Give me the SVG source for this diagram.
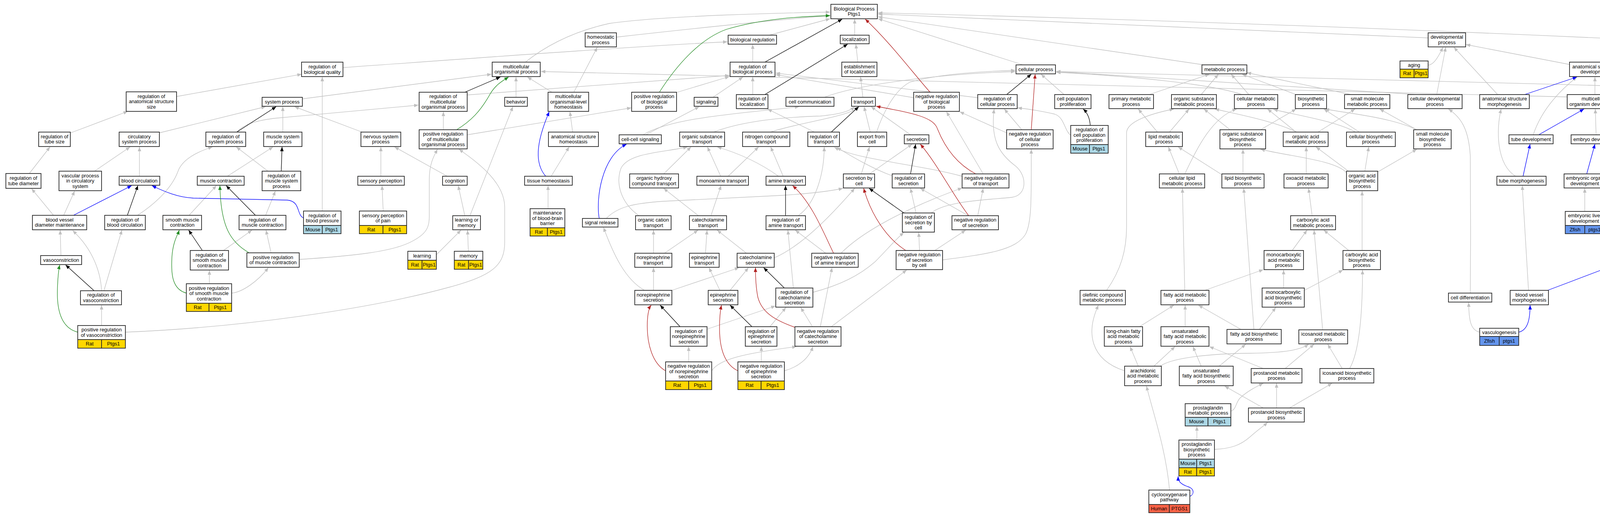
<svg xmlns="http://www.w3.org/2000/svg" width="6245" height="1323" viewBox="0 0 6245 1323">
<defs>
<style>
.n rect{fill:#fff;stroke:#2b2b2b;stroke-width:1.8}
text{font-family:"Liberation Sans",Arial,Helvetica,sans-serif;font-size:12.8px;text-anchor:middle;fill:#000}
.n rect.rat{fill:#FFD700}
.n rect.mou{fill:#ADD8E6}
.n rect.zf{fill:#6495ED}
.n rect.hu{fill:#FF6347}
#edges path{fill:none;stroke-width:1.3}
.g{stroke:#c0c0c0;marker-end:url(#mg)}
.k{stroke:#000;marker-end:url(#mk)}
.b{stroke:#0000ff;marker-end:url(#mb)}
.gr{stroke:#228b22;marker-end:url(#mgr)}
.r{stroke:#b22222;marker-end:url(#mr)}
</style>
<marker id="mg" viewBox="0 0 11 9" refX="11" refY="4.5" markerWidth="11" markerHeight="9" markerUnits="userSpaceOnUse" orient="auto"><path d="M0,0L11,4.5L0,9z" fill="#c0c0c0"/></marker>
<marker id="mk" viewBox="0 0 11 9" refX="11" refY="4.5" markerWidth="11" markerHeight="9" markerUnits="userSpaceOnUse" orient="auto"><path d="M0,0L11,4.5L0,9z" fill="#000"/></marker>
<marker id="mb" viewBox="0 0 11 9" refX="11" refY="4.5" markerWidth="11" markerHeight="9" markerUnits="userSpaceOnUse" orient="auto"><path d="M0,0L11,4.5L0,9z" fill="#0000ff"/></marker>
<marker id="mgr" viewBox="0 0 11 9" refX="11" refY="4.5" markerWidth="11" markerHeight="9" markerUnits="userSpaceOnUse" orient="auto"><path d="M0,0L11,4.5L0,9z" fill="#228b22"/></marker>
<marker id="mr" viewBox="0 0 11 9" refX="11" refY="4.5" markerWidth="11" markerHeight="9" markerUnits="userSpaceOnUse" orient="auto"><path d="M0,0L11,4.5L0,9z" fill="#b22222"/></marker>
</defs>
<rect x="0" y="0" width="6245" height="1323" fill="#fff"/>
<g id="edges">
<path class="g" d="M452,247 L772,190"/>
<path class="g" d="M878,173 C1200,150 1600,120 1862,107"/>
<path class="g" d="M774,253 L1258,190"/>
<path class="g" d="M606,338 C625,318 650,310 700,303 L1071,269"/>
<path class="g" d="M181,340 L327,285"/>
<path class="g" d="M408,340 L680,273"/>
<path class="g" d="M724,338 L724,273"/>
<path class="g" d="M927,338 L754,273"/>
<path class="g" d="M75,444 L128,376"/>
<path class="g" d="M242,438 L333,376"/>
<path class="g" d="M357,451 L357,376"/>
<path class="g" d="M582,451 L699,376"/>
<path class="g" d="M686,438 L605,376"/>
<path class="g" d="M975,451 L975,376"/>
<path class="g" d="M1145,451 L1010,376"/>
<path class="g" d="M137,551 L81,483"/>
<path class="g" d="M163,551 L191,489"/>
<path class="g" d="M352,551 C400,520 440,480 455,440 C465,410 500,390 544,376"/>
<path class="g" d="M484,551 L554,475"/>
<path class="g" d="M680,551 L705,489"/>
<path class="g" d="M825,540 L825,197"/>
<path class="g" d="M981,540 L978,475"/>
<path class="g" d="M694,647 L681,589"/>
<path class="g" d="M572,641 L645,589"/>
<path class="g" d="M156,654 L154,589"/>
<path class="g" d="M260,744 C258,700 240,640 186,590"/>
<path class="g" d="M266,744 L312,589"/>
<path class="g" d="M260,833 L260,781"/>
<path class="g" d="M536,726 L536,692"/>
<path class="g" d="M593,750 C620,748 660,720 687,685"/>
<path class="g" d="M321,850 C620,838 950,790 1150,735 C1260,705 1292,680 1292,620 L1292,530 C1292,470 1230,420 1175,382"/>
<path class="g" d="M766,664 C900,655 1000,645 1050,620 C1095,598 1099,580 1099,550 L1099,460 C1099,420 1110,400 1120,382"/>
<path class="g" d="M1345,159 C1400,115 1470,80 1560,60 C1700,40 2000,33 2125,31"/>
<path class="g" d="M1578,95 C1800,70 2000,50 2125,40"/>
<path class="g" d="M1969,90 L2125,48"/>
<path class="g" d="M1135,332 L1135,286"/>
<path class="g" d="M1196,345 L1616,276"/>
<path class="g" d="M1321,249 L1321,197"/>
<path class="g" d="M1413,236 L1350,197"/>
<path class="g" d="M1469,236 L1529,121"/>
<path class="g" d="M1734,236 L1867,196"/>
<path class="g" d="M1825,249 L1902,197"/>
<path class="g" d="M1927,242 L1927,197"/>
<path class="g" d="M1927,159 L1927,114"/>
<path class="g" d="M1196,243 L1867,193"/>
<path class="g" d="M2110,249 C2200,215 2400,190 2599,183"/>
<path class="g" d="M1653,345 L1790,273"/>
<path class="g" d="M1646,345 C1720,300 1900,290 2046,273"/>
<path class="g" d="M1466,338 L1459,286"/>
<path class="g" d="M1411,451 L1457,376"/>
<path class="g" d="M1403,534 L1403,475"/>
<path class="g" d="M1190,552 L1173,475"/>
<path class="g" d="M1203,552 L1313,273"/>
<path class="g" d="M1117,652 L1180,589"/>
<path class="g" d="M1199,643 L1197,589"/>
<path class="g" d="M1650,743 C1600,715 1570,650 1545,582"/>
<path class="g" d="M1552,559 C1580,530 1620,520 1700,515 L2000,500 C2080,495 2130,488 2158,482"/>
<path class="g" d="M1699,445 L1769,376"/>
<path class="g" d="M1636,552 C1590,520 1575,470 1590,430 C1610,390 1700,390 1760,376"/>
<path class="g" d="M1845,451 L1811,376"/>
<path class="g" d="M1864,451 L1942,376"/>
<path class="g" d="M1993,451 C1950,420 1900,395 1836,376"/>
<path class="g" d="M2005,451 L1973,376"/>
<path class="g" d="M1820,552 L1846,475"/>
<path class="g" d="M1788,552 L1699,482"/>
<path class="g" d="M1827,338 C1900,310 2000,300 2100,297 C2150,292 2175,285 2188,273"/>
<path class="g" d="M1972,338 C2060,310 2170,300 2200,273"/>
<path class="g" d="M2085,338 L1965,279"/>
<path class="g" d="M2043,552 C2090,520 2110,440 2110,376"/>
<path class="g" d="M2114,648 L2036,589"/>
<path class="g" d="M2153,648 C2200,600 2300,540 2463,481"/>
<path class="g" d="M1701,648 L1787,589"/>
<path class="g" d="M1673,648 L1673,589"/>
<path class="g" d="M1806,648 L1810,589"/>
<path class="g" d="M1911,648 L1836,589"/>
<path class="g" d="M1982,660 C2050,630 2120,560 2188,482"/>
<path class="g" d="M1673,743 L1673,685"/>
<path class="g" d="M1720,743 L1892,685"/>
<path class="g" d="M1843,743 L1815,685"/>
<path class="g" d="M1869,743 L1916,685"/>
<path class="g" d="M2031,737 L2017,589"/>
<path class="g" d="M2081,748 C2150,730 2200,705 2240,670 C2270,640 2295,610 2314,595"/>
<path class="g" d="M1811,842 L1985,783"/>
<path class="g" d="M1971,836 L2012,787"/>
<path class="g" d="M2080,836 L2050,787"/>
<path class="g" d="M2100,836 L2130,685"/>
<path class="g" d="M2128,836 L2321,691"/>
<path class="g" d="M1763,926 L1763,887"/>
<path class="g" d="M1822,949 C1840,920 1900,905 2039,887"/>
<path class="g" d="M1949,926 L1949,887"/>
<path class="g" d="M2008,949 C2040,940 2070,920 2081,887"/>
<path class="g" d="M2188,90 L2188,49"/>
<path class="g" d="M2196,159 L2191,113"/>
<path class="g" d="M2209,249 L2203,197"/>
<path class="g" d="M2339,250 L1986,191"/>
<path class="g" d="M2503,250 L1986,187"/>
<path class="g" d="M2619,166 L2248,48"/>
<path class="g" d="M3082,166 L2248,43"/>
<path class="g" d="M2724,242 L2665,190"/>
<path class="g" d="M2244,338 C2260,290 2290,230 2330,210 C2400,190 2500,183 2599,180"/>
<path class="g" d="M3627,242 L2704,183"/>
<path class="g" d="M3180,242 C3100,215 2900,195 2704,185"/>
<path class="g" d="M2942,242 L3096,190"/>
<path class="g" d="M3075,242 L3119,190"/>
<path class="g" d="M3197,242 L3152,190"/>
<path class="g" d="M3318,242 L3180,190"/>
<path class="g" d="M3459,242 L3192,186"/>
<path class="g" d="M2517,445 L2423,286"/>
<path class="g" d="M2463,451 C2350,420 2200,410 2136,377"/>
<path class="g" d="M2284,450 C2230,430 2180,400 2142,377"/>
<path class="g" d="M2228,338 L2212,273"/>
<path class="g" d="M2331,345 L2230,273"/>
<path class="g" d="M2226,445 L2335,369"/>
<path class="g" d="M2205,445 L2226,376"/>
<path class="g" d="M2345,545 L2331,482"/>
<path class="g" d="M2479,552 L2356,482"/>
<path class="g" d="M2503,552 L2517,482"/>
<path class="g" d="M2354,641 L2352,595"/>
<path class="g" d="M2393,641 L2472,589"/>
<path class="g" d="M2413,665 C2530,650 2600,640 2625,600 C2642,570 2640,500 2640,382"/>
<path class="g" d="M2384,545 C2420,515 2520,512 2590,505 C2630,500 2630,450 2600,425 C2560,395 2535,360 2545,279"/>
<path class="g" d="M2616,332 L2571,279"/>
<path class="g" d="M2577,340 L2457,286"/>
<path class="g" d="M2741,346 C2725,335 2725,300 2700,292 C2660,283 2640,280 2605,276"/>
<path class="g" d="M2963,338 L2914,279"/>
<path class="g" d="M2994,338 L3044,279"/>
<path class="g" d="M3019,445 L2991,376"/>
<path class="g" d="M3033,445 C3060,390 3100,300 3166,279"/>
<path class="g" d="M3128,447 L3016,376"/>
<path class="g" d="M3182,445 L3182,382"/>
<path class="g" d="M3149,332 L3082,279"/>
<path class="g" d="M3227,332 L3318,279"/>
<path class="g" d="M2833,743 C2870,690 2884,640 2884,580 L2884,340 C2884,310 2950,290 3005,279"/>
<path class="g" d="M3318,338 L3245,279"/>
<path class="g" d="M3374,338 L3469,279"/>
<path class="g" d="M3320,338 C3260,310 3180,295 3110,279"/>
<path class="g" d="M3480,338 L3389,279"/>
<path class="g" d="M3470,338 C3420,310 3320,295 3260,280"/>
<path class="g" d="M3627,332 L3532,279"/>
<path class="g" d="M3627,332 C3560,300 3450,290 3392,279"/>
<path class="g" d="M3452,438 L3369,376"/>
<path class="g" d="M3494,438 L3504,376"/>
<path class="g" d="M3527,440 L3627,382"/>
<path class="g" d="M3447,442 C3420,410 3300,400 3227,382"/>
<path class="g" d="M3344,445 L3344,376"/>
<path class="g" d="M3359,552 L3350,482"/>
<path class="g" d="M3308,641 L3346,589"/>
<path class="g" d="M3453,641 L3389,589"/>
<path class="g" d="M3487,641 L3487,489"/>
<path class="g" d="M3286,737 L3286,691"/>
<path class="g" d="M3339,743 L3438,691"/>
<path class="g" d="M3084,743 L3234,690"/>
<path class="g" d="M3033,743 L3027,482"/>
<path class="g" d="M3210,843 L3184,482"/>
<path class="g" d="M3224,843 L3266,787"/>
<path class="g" d="M3177,843 L3068,781"/>
<path class="g" d="M2917,836 L3005,781"/>
<path class="g" d="M3034,836 L3034,781"/>
<path class="g" d="M2879,949 C2790,920 2780,850 2812,781"/>
<path class="g" d="M2914,937 L2893,887"/>
<path class="g" d="M2954,937 L3008,887"/>
<path class="g" d="M2970,937 C3000,915 3100,905 3200,904 C3290,903 3330,895 3350,881"/>
<path class="g" d="M3234,943 L3096,887"/>
<path class="g" d="M3075,937 L3054,887"/>
<path class="g" d="M3121,937 L3189,881"/>
<path class="g" d="M3290,943 L3364,881"/>
<path class="g" d="M3151,1052 C3165,1048 3163,1030 3175,1018 C3195,1000 3215,990 3234,981"/>
<path class="g" d="M3234,1044 L3135,988"/>
<path class="g" d="M3268,1044 L3268,981"/>
<path class="g" d="M3301,1044 L3410,981"/>
<path class="g" d="M3436,943 L3399,881"/>
<path class="g" d="M3455,943 C3480,900 3488,800 3488,691"/>
<path class="g" d="M3386,844 L3364,589"/>
<path class="g" d="M3064,1126 L3064,1091"/>
<path class="g" d="M3109,1150 C3150,1148 3175,1140 3200,1118 C3220,1100 3235,1090 3245,1081"/>
<path class="g" d="M2994,1254 C2985,1150 2950,1050 2935,988"/>
<path class="g" d="M3656,97 L2248,36"/>
<path class="g" d="M5593,173 C4800,130 3600,65 2248,33"/>
<path class="g" d="M3656,167 C3670,165 3680,150 3694,121"/>
<path class="g" d="M3678,242 L3701,121"/>
<path class="g" d="M3834,242 L3722,121"/>
<path class="g" d="M4018,165 L3753,114"/>
<path class="g" d="M4083,242 L4083,197"/>
<path class="g" d="M4012,248 L1385,183"/>
<path class="g" d="M3925,345 C3940,300 3970,250 4037,197"/>
<path class="g" d="M4086,345 L4084,279"/>
<path class="g" d="M4372,345 C4320,300 4250,260 4150,197"/>
<path class="g" d="M4676,342 L4150,195"/>
<path class="g" d="M4160,648 C4170,500 4190,330 4180,260 C4175,230 4165,210 4150,198"/>
<path class="g" d="M3880,451 C3830,420 3830,330 3843,279"/>
<path class="g" d="M4110,447 C4150,430 4200,420 4300,418 C4450,414 4560,395 4675,369"/>
<path class="g" d="M4057,541 L4057,482"/>
<path class="g" d="M4291,445 L4372,369"/>
<path class="g" d="M4309,552 C4360,530 4386,500 4386,450 L4386,369"/>
<path class="g" d="M3913,743 L3897,475"/>
<path class="g" d="M3788,850 C3765,845 3760,820 3760,774"/>
<path class="g" d="M3764,750 C3765,650 3765,450 3764,400 C3760,330 3740,300 3708,279"/>
<path class="g" d="M4460,445 L4400,369"/>
<path class="g" d="M4586,445 C4520,410 4460,390 4418,369"/>
<path class="g" d="M4768,445 C4700,420 4550,390 4442,369"/>
<path class="g" d="M4961,451 C4900,420 4820,400 4761,374"/>
<path class="g" d="M5133,451 C5050,410 4900,380 4761,364"/>
<path class="g" d="M4659,558 C4700,555 4725,530 4725,480 L4722,376"/>
<path class="g" d="M4565,643 L4565,593"/>
<path class="g" d="M4934,541 C4935,520 4950,500 4970,475"/>
<path class="g" d="M5580,242 L5619,197"/>
<path class="g" d="M5508,258 C4800,240 3500,200 2704,183"/>
<path class="g" d="M5687,242 L5649,197"/>
<path class="g" d="M5924,245 L5673,192"/>
<path class="g" d="M5477,337 L5668,279"/>
<path class="g" d="M5614,332 L5576,279"/>
<path class="g" d="M5651,332 L5689,279"/>
<path class="g" d="M5773,338 L5720,279"/>
<path class="g" d="M5947,338 L5743,276"/>
<path class="g" d="M5376,445 L5406,382"/>
<path class="g" d="M5387,445 C5420,415 5480,405 5560,405 C5680,405 5730,395 5750,376"/>
<path class="g" d="M5475,445 L5436,382"/>
<path class="g" d="M5511,445 C5550,415 5620,410 5680,405 C5720,400 5750,390 5764,376"/>
<path class="g" d="M5637,445 L5634,382"/>
<path class="g" d="M5668,445 L5752,376"/>
<path class="g" d="M5790,445 L5790,376"/>
<path class="g" d="M5889,438 L5815,376"/>
<path class="g" d="M6059,428 C6060,410 6050,395 6033,376"/>
<path class="g" d="M6011,451 C5995,440 5995,425 5980,418 C5940,405 5880,390 5846,376"/>
<path class="g" d="M6182,445 C6150,400 6100,320 6036,279"/>
<path class="g" d="M6169,445 C6130,420 6050,405 5950,405 C5900,405 5870,395 5853,376"/>
<path class="g" d="M5312,541 C5290,520 5290,490 5292,460 C5296,420 5330,395 5362,378"/>
<path class="g" d="M5353,559 C5500,545 5680,530 5766,482"/>
<path class="g" d="M5704,534 C5705,510 5690,495 5671,482"/>
<path class="g" d="M5757,559 C5770,555 5768,535 5780,525 C5800,510 5840,505 5882,489"/>
<path class="g" d="M5843,552 L5801,482"/>
<path class="g" d="M5866,552 L5905,489"/>
<path class="g" d="M5905,561 C6000,550 6100,530 6166,482"/>
<path class="g" d="M5754,648 L5831,589"/>
<path class="g" d="M5611,743 L5703,685"/>
<path class="g" d="M5729,743 L5729,685"/>
<path class="g" d="M5536,833 C5535,815 5550,800 5563,781"/>
<path class="g" d="M5581,851 C5630,848 5680,830 5713,781"/>
<path class="g" d="M5489,851 C5460,840 5440,800 5420,720 C5400,640 5380,560 5369,482"/>
<path class="g" d="M5528,833 C5510,800 5485,700 5485,600 L5487,482"/>
<path class="k" d="M606,338 L707,273"/>
<path class="k" d="M720,438 L722,376"/>
<path class="k" d="M326,551 L353,475"/>
<path class="k" d="M654,551 L579,475"/>
<path class="k" d="M518,641 L483,589"/>
<path class="k" d="M241,744 L168,678"/>
<path class="k" d="M1958,159 L2156,49"/>
<path class="k" d="M1958,242 L2170,113"/>
<path class="k" d="M1190,236 L1281,197"/>
<path class="k" d="M2128,338 L2198,273"/>
<path class="k" d="M2011,552 L2011,475"/>
<path class="k" d="M2008,737 L1955,685"/>
<path class="k" d="M1741,836 L1690,781"/>
<path class="k" d="M1925,836 L1869,781"/>
<path class="k" d="M2577,242 L2640,190"/>
<path class="k" d="M2331,445 L2344,369"/>
<path class="k" d="M2314,545 L2225,482"/>
<path class="k" d="M2791,321 C2790,305 2785,290 2773,279"/>
<path class="b" d="M188,551 L337,475"/>
<path class="b" d="M777,558 C758,548 770,515 735,512 L495,507 C455,505 420,490 389,475"/>
<path class="b" d="M1397,451 C1370,420 1370,370 1406,286"/>
<path class="b" d="M1534,559 C1525,510 1540,400 1604,369"/>
<path class="b" d="M3046,1270 C3058,1265 3058,1250 3040,1245 C3020,1238 3016,1230 3016,1219"/>
<path class="b" d="M3903,242 L4037,197"/>
<path class="b" d="M3939,345 L4055,279"/>
<path class="b" d="M4351,345 L4139,279"/>
<path class="b" d="M3899,451 L3917,369"/>
<path class="b" d="M4062,445 L4083,369"/>
<path class="b" d="M4272,552 L4272,482"/>
<path class="b" d="M4180,648 L4251,589"/>
<path class="b" d="M3962,743 L4115,685"/>
<path class="b" d="M3888,850 C3910,845 3917,820 3917,781"/>
<path class="b" d="M4533,558 C4500,555 4485,530 4480,482"/>
<path class="b" d="M4876,558 C4780,550 4700,530 4645,482"/>
<path class="b" d="M4876,558 C4850,550 4830,520 4825,482"/>
<path class="b" d="M4992,558 C5060,555 5120,520 5148,475"/>
<path class="gr" d="M638,647 C590,620 565,580 563,475"/>
<path class="gr" d="M199,850 C160,840 145,800 147,740 C148,710 150,690 153,678"/>
<path class="gr" d="M477,750 C440,740 438,700 440,660 C442,620 455,600 459,589"/>
<path class="gr" d="M1688,236 C1730,170 1790,100 1860,75 C1950,48 2050,42 2125,40"/>
<path class="gr" d="M1169,332 C1205,310 1230,285 1255,240 C1270,215 1290,205 1302,197"/>
<path class="r" d="M2134,648 C2110,600 2080,520 2029,475"/>
<path class="r" d="M2036,838 C1985,820 1950,800 1940,760 C1934,730 1934,700 1934,685"/>
<path class="r" d="M1704,949 C1670,930 1657,880 1657,835 C1657,810 1660,790 1667,781"/>
<path class="r" d="M1889,949 C1850,930 1842,880 1842,840 C1842,810 1845,790 1847,781"/>
<path class="r" d="M2381,236 C2340,190 2280,110 2215,49"/>
<path class="r" d="M2640,332 L2650,190"/>
<path class="r" d="M2498,445 C2450,420 2420,380 2400,330 C2390,300 2340,290 2243,272"/>
<path class="r" d="M2480,552 C2440,500 2400,420 2356,369"/>
<path class="r" d="M2319,641 C2270,610 2230,550 2211,482"/>
</g>
<g id="nodes">
<g id="rbq" class="n"><rect x="772" y="159" width="106" height="37"/><text x="825" y="175"><tspan x="825">regulation of</tspan><tspan x="825" dy="13.5">biological quality</tspan></text></g>
<g id="rass" class="n"><rect x="323" y="235" width="129" height="50"/><text x="387.5" y="250.5"><tspan x="387.5">regulation of</tspan><tspan x="387.5" dy="13.5">anatomical structure</tspan><tspan x="387.5" dy="13.5">size</tspan></text></g>
<g id="sysp" class="n"><rect x="671" y="249" width="103" height="23"/><text x="722.5" y="264.5">system process</text></g>
<g id="rts" class="n"><rect x="99" y="338" width="81" height="37"/><text x="139.5" y="353.75"><tspan x="139.5">regulation of</tspan><tspan x="139.5" dy="13.5">tube size</tspan></text></g>
<g id="csp" class="n"><rect x="305" y="338" width="103" height="37"/><text x="356.5" y="353.75"><tspan x="356.5">circulatory</tspan><tspan x="356.5" dy="13.5">system process</tspan></text></g>
<g id="rsp" class="n"><rect x="527" y="338" width="102" height="37"/><text x="578" y="353.75"><tspan x="578">regulation of</tspan><tspan x="578" dy="13.5">system process</tspan></text></g>
<g id="msp" class="n"><rect x="675" y="338" width="98" height="37"/><text x="724" y="353.75"><tspan x="724">muscle system</tspan><tspan x="724" dy="13.5">process</tspan></text></g>
<g id="nsp" class="n"><rect x="924" y="338" width="102" height="37"/><text x="975" y="353.75"><tspan x="975">nervous system</tspan><tspan x="975" dy="13.5">process</tspan></text></g>
<g id="rtd" class="n"><rect x="15" y="444" width="90" height="38"/><text x="60" y="460.25"><tspan x="60">regulation of</tspan><tspan x="60" dy="13.5">tube diameter</tspan></text></g>
<g id="vpcs" class="n"><rect x="151" y="438" width="109" height="50"/><text x="205.5" y="453.5"><tspan x="205.5">vascular process</tspan><tspan x="205.5" dy="13.5">in circulatory</tspan><tspan x="205.5" dy="13.5">system</tspan></text></g>
<g id="bc" class="n"><rect x="305" y="451" width="104" height="23"/><text x="357" y="466.5">blood circulation</text></g>
<g id="mc" class="n"><rect x="505" y="451" width="120" height="23"/><text x="565" y="466.5">muscle contraction</text></g>
<g id="rmsp" class="n"><rect x="671" y="438" width="99" height="50"/><text x="720.5" y="453.5"><tspan x="720.5">regulation of</tspan><tspan x="720.5" dy="13.5">muscle system</tspan><tspan x="720.5" dy="13.5">process</tspan></text></g>
<g id="sp" class="n"><rect x="916" y="451" width="119" height="23"/><text x="975.5" y="466.5">sensory perception</text></g>
<g id="bvdm" class="n"><rect x="83" y="551" width="139" height="37"/><text x="152.5" y="566.75"><tspan x="152.5">blood vessel</tspan><tspan x="152.5" dy="13.5">diameter maintenance</tspan></text></g>
<g id="rbc" class="n"><rect x="268" y="551" width="104" height="37"/><text x="320" y="566.75"><tspan x="320">regulation of</tspan><tspan x="320" dy="13.5">blood circulation</tspan></text></g>
<g id="smc" class="n"><rect x="417" y="551" width="99" height="37"/><text x="466.5" y="566.75"><tspan x="466.5">smooth muscle</tspan><tspan x="466.5" dy="13.5">contraction</tspan></text></g>
<g id="rmc" class="n"><rect x="612" y="551" width="120" height="37"/><text x="672" y="566.75"><tspan x="672">regulation of</tspan><tspan x="672" dy="13.5">muscle contraction</tspan></text></g>
<g id="rbp" class="n"><rect x="777" y="540" width="96" height="37"/><text x="825" y="555.75"><tspan x="825">regulation of</tspan><tspan x="825" dy="13.5">blood pressure</tspan></text><rect class="mou" x="777" y="577" width="48" height="21"/><rect class="mou" x="825" y="577" width="48" height="21"/><text x="801" y="591.5">Mouse</text><text x="849" y="591.5">Ptgs1</text></g>
<g id="spp" class="n"><rect x="920" y="540" width="121" height="37"/><text x="980.5" y="555.75"><tspan x="980.5">sensory perception</tspan><tspan x="980.5" dy="13.5">of pain</tspan></text><rect class="rat" x="920" y="577" width="60.5" height="21"/><rect class="rat" x="980.5" y="577" width="60.5" height="21"/><text x="950.25" y="591.5">Rat</text><text x="1010.75" y="591.5">Ptgs1</text></g>
<g id="vc" class="n"><rect x="104" y="654" width="105" height="23"/><text x="156.5" y="669.5">vasoconstriction</text></g>
<g id="rsmc" class="n"><rect x="487" y="641" width="98" height="50"/><text x="536" y="656.5"><tspan x="536">regulation of</tspan><tspan x="536" dy="13.5">smooth muscle</tspan><tspan x="536" dy="13.5">contraction</tspan></text></g>
<g id="prmc" class="n"><rect x="632" y="647" width="134" height="37"/><text x="699" y="662.75"><tspan x="699">positive regulation</tspan><tspan x="699" dy="13.5">of muscle contraction</tspan></text></g>
<g id="learn" class="n"><rect x="1044" y="643" width="73" height="23"/><text x="1080.5" y="658.5">learning</text><rect class="rat" x="1044" y="666" width="36.5" height="23"/><rect class="rat" x="1080.5" y="666" width="36.5" height="23"/><text x="1062.25" y="681.5">Rat</text><text x="1098.75" y="681.5">Ptgs1</text></g>
<g id="rvc" class="n"><rect x="206" y="744" width="105" height="36"/><text x="258.5" y="759.25"><tspan x="258.5">regulation of</tspan><tspan x="258.5" dy="13.5">vasoconstriction</tspan></text></g>
<g id="prsmc" class="n"><rect x="477" y="726" width="116" height="50"/><text x="535" y="741.5"><tspan x="535">positive regulation</tspan><tspan x="535" dy="13.5">of smooth muscle</tspan><tspan x="535" dy="13.5">contraction</tspan></text><rect class="rat" x="477" y="776" width="58" height="21"/><rect class="rat" x="535" y="776" width="58" height="21"/><text x="506" y="790.5">Rat</text><text x="564" y="790.5">Ptgs1</text></g>
<g id="prvc" class="n"><rect x="199" y="833" width="122" height="36"/><text x="260" y="848.25"><tspan x="260">positive regulation</tspan><tspan x="260" dy="13.5">of vasoconstriction</tspan></text><rect class="rat" x="199" y="869" width="61" height="22"/><rect class="rat" x="260" y="869" width="61" height="22"/><text x="229.5" y="884">Rat</text><text x="290.5" y="884">Ptgs1</text></g>
<g id="hp" class="n"><rect x="1498" y="84" width="80" height="36"/><text x="1538" y="99.25"><tspan x="1538">homeostatic</tspan><tspan x="1538" dy="13.5">process</tspan></text></g>
<g id="br" class="n"><rect x="1864" y="90" width="124" height="23"/><text x="1926" y="105.5">biological regulation</text></g>
<g id="mop" class="n"><rect x="1260" y="159" width="123" height="37"/><text x="1321.5" y="174.75"><tspan x="1321.5">multicellular</tspan><tspan x="1321.5" dy="13.5">organismal process</tspan></text></g>
<g id="rbpr" class="n"><rect x="1869" y="159" width="115" height="37"/><text x="1926.5" y="174.75"><tspan x="1926.5">regulation of</tspan><tspan x="1926.5" dy="13.5">biological process</tspan></text></g>
<g id="rmop" class="n"><rect x="1073" y="236" width="123" height="49"/><text x="1134.5" y="251"><tspan x="1134.5">regulation of</tspan><tspan x="1134.5" dy="13.5">multicellular</tspan><tspan x="1134.5" dy="13.5">organismal process</tspan></text></g>
<g id="beh" class="n"><rect x="1292" y="249" width="58" height="23"/><text x="1321" y="264.5">behavior</text></g>
<g id="molh" class="n"><rect x="1403" y="236" width="104" height="49"/><text x="1455" y="251"><tspan x="1455">multicellular</tspan><tspan x="1455" dy="13.5">organismal-level</tspan><tspan x="1455" dy="13.5">homeostasis</tspan></text></g>
<g id="prbp" class="n"><rect x="1617" y="236" width="115" height="49"/><text x="1674.5" y="251"><tspan x="1674.5">positive regulation</tspan><tspan x="1674.5" dy="13.5">of biological</tspan><tspan x="1674.5" dy="13.5">process</tspan></text></g>
<g id="sig" class="n"><rect x="1777" y="249" width="61" height="23"/><text x="1807.5" y="264.5">signaling</text></g>
<g id="rloc" class="n"><rect x="1885" y="242" width="81" height="36"/><text x="1925.5" y="257.25"><tspan x="1925.5">regulation of</tspan><tspan x="1925.5" dy="13.5">localization</tspan></text></g>
<g id="cc" class="n"><rect x="2012" y="249" width="123" height="23"/><text x="2073.5" y="264.5">cell communication</text></g>
<g id="prmop" class="n"><rect x="1073" y="332" width="123" height="49"/><text x="1134.5" y="347"><tspan x="1134.5">positive regulation</tspan><tspan x="1134.5" dy="13.5">of multicellular</tspan><tspan x="1134.5" dy="13.5">organismal process</tspan></text></g>
<g id="ash" class="n"><rect x="1404" y="338" width="128" height="37"/><text x="1468" y="353.75"><tspan x="1468">anatomical structure</tspan><tspan x="1468" dy="13.5">homeostasis</tspan></text></g>
<g id="ccs" class="n"><rect x="1585" y="345" width="108" height="23"/><text x="1639" y="360.5">cell-cell signaling</text></g>
<g id="ost" class="n"><rect x="1740" y="338" width="115" height="37"/><text x="1797.5" y="353.75"><tspan x="1797.5">organic substance</tspan><tspan x="1797.5" dy="13.5">transport</tspan></text></g>
<g id="nct" class="n"><rect x="1901" y="338" width="121" height="37"/><text x="1961.5" y="353.75"><tspan x="1961.5">nitrogen compound</tspan><tspan x="1961.5" dy="13.5">transport</tspan></text></g>
<g id="rtr" class="n"><rect x="2068" y="338" width="81" height="37"/><text x="2108.5" y="353.75"><tspan x="2108.5">regulation of</tspan><tspan x="2108.5" dy="13.5">transport</tspan></text></g>
<g id="cog" class="n"><rect x="1133" y="451" width="63" height="23"/><text x="1164.5" y="466.5">cognition</text></g>
<g id="th" class="n"><rect x="1343" y="451" width="122" height="23"/><text x="1404" y="466.5">tissue homeostasis</text></g>
<g id="ohct" class="n"><rect x="1612" y="445" width="125" height="36"/><text x="1674.5" y="460.25"><tspan x="1674.5">organic hydroxy</tspan><tspan x="1674.5" dy="13.5">compound transport</tspan></text></g>
<g id="mt" class="n"><rect x="1784" y="451" width="132" height="23"/><text x="1850" y="466.5">monoamine transport</text></g>
<g id="at" class="n"><rect x="1961" y="451" width="101" height="23"/><text x="2011.5" y="466.5">amine transport</text></g>
<g id="mbbb" class="n"><rect x="1357" y="534" width="89" height="49"/><text x="1401.5" y="549"><tspan x="1401.5">maintenance</tspan><tspan x="1401.5" dy="13.5">of blood-brain</tspan><tspan x="1401.5" dy="13.5">barrier</tspan></text><rect class="rat" x="1357" y="583" width="44.5" height="21"/><rect class="rat" x="1401.5" y="583" width="44.5" height="21"/><text x="1379.25" y="597.5">Rat</text><text x="1423.75" y="597.5">Ptgs1</text></g>
<g id="lom" class="n"><rect x="1159" y="552" width="71" height="36"/><text x="1194.5" y="567.25"><tspan x="1194.5">learning or</tspan><tspan x="1194.5" dy="13.5">memory</tspan></text></g>
<g id="sr" class="n"><rect x="1491" y="559" width="91" height="22"/><text x="1536.5" y="574">signal release</text></g>
<g id="oct" class="n"><rect x="1627" y="552" width="91" height="36"/><text x="1672.5" y="567.25"><tspan x="1672.5">organic cation</tspan><tspan x="1672.5" dy="13.5">transport</tspan></text></g>
<g id="cat" class="n"><rect x="1765" y="552" width="95" height="36"/><text x="1812.5" y="567.25"><tspan x="1812.5">catecholamine</tspan><tspan x="1812.5" dy="13.5">transport</tspan></text></g>
<g id="rat" class="n"><rect x="1961" y="552" width="101" height="36"/><text x="2011.5" y="567.25"><tspan x="2011.5">regulation of</tspan><tspan x="2011.5" dy="13.5">amine transport</tspan></text></g>
<g id="mem" class="n"><rect x="1163" y="643" width="73" height="23"/><text x="1199.5" y="658.5">memory</text><rect class="rat" x="1163" y="666" width="36.5" height="23"/><rect class="rat" x="1199.5" y="666" width="36.5" height="23"/><text x="1181.25" y="681.5">Rat</text><text x="1217.75" y="681.5">Ptgs1</text></g>
<g id="net" class="n"><rect x="1625" y="648" width="95" height="36"/><text x="1672.5" y="663.25"><tspan x="1672.5">norepinephrine</tspan><tspan x="1672.5" dy="13.5">transport</tspan></text></g>
<g id="et" class="n"><rect x="1765" y="648" width="76" height="36"/><text x="1803" y="663.25"><tspan x="1803">epinephrine</tspan><tspan x="1803" dy="13.5">transport</tspan></text></g>
<g id="cs" class="n"><rect x="1887" y="648" width="95" height="36"/><text x="1934.5" y="663.25"><tspan x="1934.5">catecholamine</tspan><tspan x="1934.5" dy="13.5">secretion</tspan></text></g>
<g id="nrat" class="n"><rect x="2078" y="648" width="119" height="36"/><text x="2137.5" y="663.25"><tspan x="2137.5">negative regulation</tspan><tspan x="2137.5" dy="13.5">of amine transport</tspan></text></g>
<g id="ns" class="n"><rect x="1625" y="743" width="95" height="37"/><text x="1672.5" y="758.75"><tspan x="1672.5">norepinephrine</tspan><tspan x="1672.5" dy="13.5">secretion</tspan></text></g>
<g id="es" class="n"><rect x="1813" y="743" width="76" height="37"/><text x="1851" y="758.75"><tspan x="1851">epinephrine</tspan><tspan x="1851" dy="13.5">secretion</tspan></text></g>
<g id="rcs" class="n"><rect x="1986" y="737" width="95" height="49"/><text x="2033.5" y="752"><tspan x="2033.5">regulation of</tspan><tspan x="2033.5" dy="13.5">catecholamine</tspan><tspan x="2033.5" dy="13.5">secretion</tspan></text></g>
<g id="rns" class="n"><rect x="1716" y="836" width="94" height="50"/><text x="1763" y="851.5"><tspan x="1763">regulation of</tspan><tspan x="1763" dy="13.5">norepinephrine</tspan><tspan x="1763" dy="13.5">secretion</tspan></text></g>
<g id="res" class="n"><rect x="1908" y="836" width="81" height="50"/><text x="1948.5" y="851.5"><tspan x="1948.5">regulation of</tspan><tspan x="1948.5" dy="13.5">epinephrine</tspan><tspan x="1948.5" dy="13.5">secretion</tspan></text></g>
<g id="nrcs" class="n"><rect x="2035" y="836" width="118" height="50"/><text x="2094" y="851.5"><tspan x="2094">negative regulation</tspan><tspan x="2094" dy="13.5">of catecholamine</tspan><tspan x="2094" dy="13.5">secretion</tspan></text></g>
<g id="nrns" class="n"><rect x="1704" y="926" width="118" height="49"/><text x="1763" y="941"><tspan x="1763">negative regulation</tspan><tspan x="1763" dy="13.5">of norepinephrine</tspan><tspan x="1763" dy="13.5">secretion</tspan></text><rect class="rat" x="1704" y="975" width="59" height="22"/><rect class="rat" x="1763" y="975" width="59" height="22"/><text x="1733.5" y="990">Rat</text><text x="1792.5" y="990">Ptgs1</text></g>
<g id="nres" class="n"><rect x="1889" y="926" width="119" height="49"/><text x="1948.5" y="941"><tspan x="1948.5">negative regulation</tspan><tspan x="1948.5" dy="13.5">of epinephrine</tspan><tspan x="1948.5" dy="13.5">secretion</tspan></text><rect class="rat" x="1889" y="975" width="59.5" height="22"/><rect class="rat" x="1948.5" y="975" width="59.5" height="22"/><text x="1918.75" y="990">Rat</text><text x="1978.25" y="990">Ptgs1</text></g>
<g id="root" class="n"><rect x="2127" y="11" width="119" height="37"/><text x="2186.5" y="26.75"><tspan x="2186.5">Biological Process</tspan><tspan x="2186.5" dy="13.5">Ptgs1</tspan></text></g>
<g id="loc" class="n"><rect x="2151" y="90" width="74" height="22"/><text x="2188" y="105">localization</text></g>
<g id="eol" class="n"><rect x="2155" y="159" width="90" height="37"/><text x="2200" y="174.75"><tspan x="2200">establishment</tspan><tspan x="2200" dy="13.5">of localization</tspan></text></g>
<g id="cp" class="n"><rect x="2601" y="166" width="101" height="23"/><text x="2651.5" y="181.5">cellular process</text></g>
<g id="mp" class="n"><rect x="3077" y="166" width="115" height="23"/><text x="3134.5" y="181.5">metabolic process</text></g>
<g id="tr" class="n"><rect x="2180" y="249" width="61" height="23"/><text x="2210.5" y="264.5">transport</text></g>
<g id="nrbp" class="n"><rect x="2339" y="236" width="117" height="49"/><text x="2397.5" y="251"><tspan x="2397.5">negative regulation</tspan><tspan x="2397.5" dy="13.5">of biological</tspan><tspan x="2397.5" dy="13.5">process</tspan></text></g>
<g id="rcp" class="n"><rect x="2503" y="242" width="101" height="36"/><text x="2553.5" y="257.25"><tspan x="2553.5">regulation of</tspan><tspan x="2553.5" dy="13.5">cellular process</tspan></text></g>
<g id="cpp" class="n"><rect x="2700" y="242" width="93" height="36"/><text x="2746.5" y="257.25"><tspan x="2746.5">cell population</tspan><tspan x="2746.5" dy="13.5">proliferation</tspan></text></g>
<g id="pmp" class="n"><rect x="2839" y="242" width="114" height="36"/><text x="2896" y="257.25"><tspan x="2896">primary metabolic</tspan><tspan x="2896" dy="13.5">process</tspan></text></g>
<g id="osmp" class="n"><rect x="2999" y="242" width="115" height="36"/><text x="3056.5" y="257.25"><tspan x="3056.5">organic substance</tspan><tspan x="3056.5" dy="13.5">metabolic process</tspan></text></g>
<g id="cmp" class="n"><rect x="3160" y="242" width="111" height="36"/><text x="3215.5" y="257.25"><tspan x="3215.5">cellular metabolic</tspan><tspan x="3215.5" dy="13.5">process</tspan></text></g>
<g id="efc" class="n"><rect x="2195" y="338" width="75" height="37"/><text x="2232.5" y="353.75"><tspan x="2232.5">export from</tspan><tspan x="2232.5" dy="13.5">cell</tspan></text></g>
<g id="sec" class="n"><rect x="2315" y="345" width="63" height="23"/><text x="2346.5" y="360.5">secretion</text></g>
<g id="nrcp" class="n"><rect x="2577" y="332" width="119" height="49"/><text x="2636.5" y="347"><tspan x="2636.5">negative regulation</tspan><tspan x="2636.5" dy="13.5">of cellular</tspan><tspan x="2636.5" dy="13.5">process</tspan></text></g>
<g id="rcpp" class="n"><rect x="2741" y="321" width="96" height="49"/><text x="2789" y="336"><tspan x="2789">regulation of</tspan><tspan x="2789" dy="13.5">cell population</tspan><tspan x="2789" dy="13.5">proliferation</tspan></text><rect class="mou" x="2741" y="370" width="48" height="22"/><rect class="mou" x="2789" y="370" width="48" height="22"/><text x="2765" y="385">Mouse</text><text x="2813" y="385">Ptgs1</text></g>
<g id="lmp" class="n"><rect x="2933" y="338" width="94" height="37"/><text x="2980" y="353.75"><tspan x="2980">lipid metabolic</tspan><tspan x="2980" dy="13.5">process</tspan></text></g>
<g id="osbp" class="n"><rect x="3123" y="332" width="117" height="49"/><text x="3181.5" y="347"><tspan x="3181.5">organic substance</tspan><tspan x="3181.5" dy="13.5">biosynthetic</tspan><tspan x="3181.5" dy="13.5">process</tspan></text></g>
<g id="sbc" class="n"><rect x="2159" y="445" width="80" height="36"/><text x="2199" y="460.25"><tspan x="2199">secretion by</tspan><tspan x="2199" dy="13.5">cell</tspan></text></g>
<g id="rsec" class="n"><rect x="2284" y="445" width="83" height="36"/><text x="2325.5" y="460.25"><tspan x="2325.5">regulation of</tspan><tspan x="2325.5" dy="13.5">secretion</tspan></text></g>
<g id="nrtr" class="n"><rect x="2463" y="445" width="120" height="36"/><text x="2523" y="460.25"><tspan x="2523">negative regulation</tspan><tspan x="2523" dy="13.5">of transport</tspan></text></g>
<g id="clmp" class="n"><rect x="2968" y="445" width="116" height="36"/><text x="3026" y="460.25"><tspan x="3026">cellular lipid</tspan><tspan x="3026" dy="13.5">metabolic process</tspan></text></g>
<g id="lbp" class="n"><rect x="3128" y="445" width="108" height="36"/><text x="3182" y="460.25"><tspan x="3182">lipid biosynthetic</tspan><tspan x="3182" dy="13.5">process</tspan></text></g>
<g id="rsbc" class="n"><rect x="2310" y="545" width="82" height="49"/><text x="2351" y="560"><tspan x="2351">regulation of</tspan><tspan x="2351" dy="13.5">secretion by</tspan><tspan x="2351" dy="13.5">cell</tspan></text></g>
<g id="nrsec" class="n"><rect x="2437" y="552" width="119" height="36"/><text x="2496.5" y="567.25"><tspan x="2496.5">negative regulation</tspan><tspan x="2496.5" dy="13.5">of secretion</tspan></text></g>
<g id="nrsbc" class="n"><rect x="2294" y="641" width="119" height="49"/><text x="2353.5" y="656"><tspan x="2353.5">negative regulation</tspan><tspan x="2353.5" dy="13.5">of secretion</tspan><tspan x="2353.5" dy="13.5">by cell</tspan></text></g>
<g id="ocmp" class="n"><rect x="2765" y="743" width="116" height="37"/><text x="2823" y="758.75"><tspan x="2823">olefinic compound</tspan><tspan x="2823" dy="13.5">metabolic process</tspan></text></g>
<g id="famp" class="n"><rect x="2972" y="743" width="123" height="37"/><text x="3033.5" y="758.75"><tspan x="3033.5">fatty acid metabolic</tspan><tspan x="3033.5" dy="13.5">process</tspan></text></g>
<g id="lcfamp" class="n"><rect x="2827" y="836" width="98" height="50"/><text x="2876" y="851.5"><tspan x="2876">long-chain fatty</tspan><tspan x="2876" dy="13.5">acid metabolic</tspan><tspan x="2876" dy="13.5">process</tspan></text></g>
<g id="ufamp" class="n"><rect x="2972" y="836" width="123" height="50"/><text x="3033.5" y="851.5"><tspan x="3033.5">unsaturated</tspan><tspan x="3033.5" dy="13.5">fatty acid metabolic</tspan><tspan x="3033.5" dy="13.5">process</tspan></text></g>
<g id="fabp" class="n"><rect x="3141" y="843" width="139" height="37"/><text x="3210.5" y="858.75"><tspan x="3210.5">fatty acid biosynthetic</tspan><tspan x="3210.5" dy="13.5">process</tspan></text></g>
<g id="aamp" class="n"><rect x="2879" y="937" width="94" height="50"/><text x="2926" y="952.5"><tspan x="2926">arachidonic</tspan><tspan x="2926" dy="13.5">acid metabolic</tspan><tspan x="2926" dy="13.5">process</tspan></text></g>
<g id="ufabp" class="n"><rect x="3019" y="937" width="138" height="50"/><text x="3088" y="952.5"><tspan x="3088">unsaturated</tspan><tspan x="3088" dy="13.5">fatty acid biosynthetic</tspan><tspan x="3088" dy="13.5">process</tspan></text></g>
<g id="pgmp" class="n"><rect x="3034" y="1033" width="117" height="35"/><text x="3092.5" y="1047.75"><tspan x="3092.5">prostaglandin</tspan><tspan x="3092.5" dy="13.5">metabolic process</tspan></text><rect class="mou" x="3034" y="1068" width="58.5" height="22"/><rect class="mou" x="3092.5" y="1068" width="58.5" height="22"/><text x="3063.25" y="1083">Mouse</text><text x="3121.75" y="1083">Ptgs1</text></g>
<g id="pgbp" class="n"><rect x="3018" y="1126" width="91" height="49"/><text x="3063.5" y="1141"><tspan x="3063.5">prostaglandin</tspan><tspan x="3063.5" dy="13.5">biosynthetic</tspan><tspan x="3063.5" dy="13.5">process</tspan></text><rect class="mou" x="3018" y="1175" width="45.5" height="22"/><rect class="mou" x="3063.5" y="1175" width="45.5" height="22"/><text x="3040.75" y="1190">Mouse</text><text x="3086.25" y="1190">Ptgs1</text><rect class="rat" x="3018" y="1197" width="45.5" height="21"/><rect class="rat" x="3063.5" y="1197" width="45.5" height="21"/><text x="3040.75" y="1211.5">Rat</text><text x="3086.25" y="1211.5">Ptgs1</text></g>
<g id="cox" class="n"><rect x="2941" y="1254" width="105" height="37"/><text x="2993.5" y="1269.75"><tspan x="2993.5">cyclooxygenase</tspan><tspan x="2993.5" dy="13.5">pathway</tspan></text><rect class="hu" x="2941" y="1291" width="52.5" height="21"/><rect class="hu" x="2993.5" y="1291" width="52.5" height="21"/><text x="2967.25" y="1305.5">Human</text><text x="3019.75" y="1305.5">PTGS1</text></g>
<g id="dp" class="n"><rect x="3656" y="84" width="96" height="36"/><text x="3704" y="99.25"><tspan x="3704">developmental</tspan><tspan x="3704" dy="13.5">process</tspan></text></g>
<g id="aging" class="n"><rect x="3584" y="156" width="72" height="21"/><text x="3620" y="170.5">aging</text><rect class="rat" x="3584" y="177" width="36" height="22"/><rect class="rat" x="3620" y="177" width="36" height="22"/><text x="3602" y="192">Rat</text><text x="3638" y="192">Ptgs1</text></g>
<g id="asd" class="n"><rect x="4018" y="159" width="129" height="37"/><text x="4082.5" y="174.75"><tspan x="4082.5">anatomical structure</tspan><tspan x="4082.5" dy="13.5">development</tspan></text></g>
<g id="bp" class="n"><rect x="3316" y="242" width="80" height="36"/><text x="3356" y="257.25"><tspan x="3356">biosynthetic</tspan><tspan x="3356" dy="13.5">process</tspan></text></g>
<g id="smmp" class="n"><rect x="3442" y="242" width="116" height="36"/><text x="3500" y="257.25"><tspan x="3500">small molecule</tspan><tspan x="3500" dy="13.5">metabolic process</tspan></text></g>
<g id="cdp" class="n"><rect x="3604" y="242" width="139" height="36"/><text x="3673.5" y="257.25"><tspan x="3673.5">cellular developmental</tspan><tspan x="3673.5" dy="13.5">process</tspan></text></g>
<g id="asm" class="n"><rect x="3788" y="242" width="127" height="36"/><text x="3851.5" y="257.25"><tspan x="3851.5">anatomical structure</tspan><tspan x="3851.5" dy="13.5">morphogenesis</tspan></text></g>
<g id="mod" class="n"><rect x="4012" y="242" width="141" height="36"/><text x="4082.5" y="257.25"><tspan x="4082.5">multicellular</tspan><tspan x="4082.5" dy="13.5">organism development</tspan></text></g>
<g id="oamp" class="n"><rect x="3285" y="338" width="115" height="37"/><text x="3342.5" y="353.75"><tspan x="3342.5">organic acid</tspan><tspan x="3342.5" dy="13.5">metabolic process</tspan></text></g>
<g id="cbp" class="n"><rect x="3447" y="338" width="125" height="37"/><text x="3509.5" y="353.75"><tspan x="3509.5">cellular biosynthetic</tspan><tspan x="3509.5" dy="13.5">process</tspan></text></g>
<g id="smbp" class="n"><rect x="3619" y="332" width="96" height="49"/><text x="3667" y="347"><tspan x="3667">small molecule</tspan><tspan x="3667" dy="13.5">biosynthetic</tspan><tspan x="3667" dy="13.5">process</tspan></text></g>
<g id="td" class="n"><rect x="3863" y="345" width="113" height="23"/><text x="3919.5" y="360.5">tube development</text></g>
<g id="ed" class="n"><rect x="4022" y="345" width="131" height="23"/><text x="4087.5" y="360.5">embryo development</text></g>
<g id="oxmp" class="n"><rect x="3287" y="445" width="113" height="36"/><text x="3343.5" y="460.25"><tspan x="3343.5">oxoacid metabolic</tspan><tspan x="3343.5" dy="13.5">process</tspan></text></g>
<g id="oabp" class="n"><rect x="3447" y="438" width="80" height="50"/><text x="3487" y="453.5"><tspan x="3487">organic acid</tspan><tspan x="3487" dy="13.5">biosynthetic</tspan><tspan x="3487" dy="13.5">process</tspan></text></g>
<g id="tm" class="n"><rect x="3832" y="451" width="126" height="23"/><text x="3895" y="466.5">tube morphogenesis</text></g>
<g id="eod" class="n"><rect x="4004" y="445" width="106" height="36"/><text x="4057" y="460.25"><tspan x="4057">embryonic organ</tspan><tspan x="4057" dy="13.5">development</tspan></text></g>
<g id="casd" class="n"><rect x="4206" y="445" width="131" height="36"/><text x="4271.5" y="460.25"><tspan x="4271.5">circulatory</tspan><tspan x="4271.5" dy="13.5">system development</tspan></text></g>
<g id="camp" class="n"><rect x="3304" y="552" width="115" height="36"/><text x="3361.5" y="567.25"><tspan x="3361.5">carboxylic acid</tspan><tspan x="3361.5" dy="13.5">metabolic process</tspan></text></g>
<g id="eld" class="n"><rect x="4007" y="541" width="100" height="36"/><text x="4057" y="556.25"><tspan x="4057">embryonic liver</tspan><tspan x="4057" dy="13.5">development</tspan></text><rect class="zf" x="4007" y="577" width="50" height="21"/><rect class="zf" x="4057" y="577" width="50" height="21"/><text x="4032" y="591.5">Zfish</text><text x="4082" y="591.5">ptgs1</text></g>
<g id="vd" class="n"><rect x="4229" y="552" width="85" height="36"/><text x="4271.5" y="567.25"><tspan x="4271.5">vasculature</tspan><tspan x="4271.5" dy="13.5">development</tspan></text></g>
<g id="mcamp" class="n"><rect x="3236" y="641" width="101" height="49"/><text x="3286.5" y="656"><tspan x="3286.5">monocarboxylic</tspan><tspan x="3286.5" dy="13.5">acid metabolic</tspan><tspan x="3286.5" dy="13.5">process</tspan></text></g>
<g id="cabp" class="n"><rect x="3438" y="641" width="96" height="49"/><text x="3486" y="656"><tspan x="3486">carboxylic acid</tspan><tspan x="3486" dy="13.5">biosynthetic</tspan><tspan x="3486" dy="13.5">process</tspan></text></g>
<g id="bvd" class="n"><rect x="4116" y="648" width="83" height="36"/><text x="4157.5" y="663.25"><tspan x="4157.5">blood vessel</tspan><tspan x="4157.5" dy="13.5">development</tspan></text></g>
<g id="mcabp" class="n"><rect x="3231" y="737" width="108" height="49"/><text x="3285" y="752"><tspan x="3285">monocarboxylic</tspan><tspan x="3285" dy="13.5">acid biosynthetic</tspan><tspan x="3285" dy="13.5">process</tspan></text></g>
<g id="cd" class="n"><rect x="3708" y="750" width="111" height="23"/><text x="3763.5" y="765.5">cell differentiation</text></g>
<g id="bvm" class="n"><rect x="3866" y="743" width="98" height="37"/><text x="3915" y="758.75"><tspan x="3915">blood vessel</tspan><tspan x="3915" dy="13.5">morphogenesis</tspan></text></g>
<g id="icmp" class="n"><rect x="3325" y="844" width="125" height="36"/><text x="3387.5" y="859.25"><tspan x="3387.5">icosanoid metabolic</tspan><tspan x="3387.5" dy="13.5">process</tspan></text></g>
<g id="vg" class="n"><rect x="3788" y="840" width="100" height="21"/><text x="3838" y="854.5">vasculogenesis</text><rect class="zf" x="3788" y="861" width="50" height="23"/><rect class="zf" x="3838" y="861" width="50" height="23"/><text x="3813" y="876.5">Zfish</text><text x="3863" y="876.5">ptgs1</text></g>
<g id="pnmp" class="n"><rect x="3203" y="943" width="130" height="37"/><text x="3268" y="958.75"><tspan x="3268">prostanoid metabolic</tspan><tspan x="3268" dy="13.5">process</tspan></text></g>
<g id="icbp" class="n"><rect x="3379" y="943" width="138" height="37"/><text x="3448" y="958.75"><tspan x="3448">icosanoid biosynthetic</tspan><tspan x="3448" dy="13.5">process</tspan></text></g>
<g id="pnbp" class="n"><rect x="3196" y="1044" width="143" height="36"/><text x="3267.5" y="1059.25"><tspan x="3267.5">prostanoid biosynthetic</tspan><tspan x="3267.5" dy="13.5">process</tspan></text></g>
<g id="sd" class="n"><rect x="4320" y="345" width="130" height="23"/><text x="4385" y="360.5">system development</text></g>
<g id="aod" class="n"><rect x="4676" y="338" width="84" height="37"/><text x="4718" y="353.75"><tspan x="4718">animal organ</tspan><tspan x="4718" dy="13.5">development</tspan></text></g>
<g id="rsd" class="n"><rect x="4434" y="445" width="84" height="36"/><text x="4476" y="460.25"><tspan x="4476">renal system</tspan><tspan x="4476" dy="13.5">development</tspan></text></g>
<g id="esd" class="n"><rect x="4563" y="445" width="107" height="36"/><text x="4616.5" y="460.25"><tspan x="4616.5">exocrine system</tspan><tspan x="4616.5" dy="13.5">development</tspan></text></g>
<g id="dsd" class="n"><rect x="4767" y="445" width="109" height="36"/><text x="4821.5" y="460.25"><tspan x="4821.5">digestive system</tspan><tspan x="4821.5" dy="13.5">development</tspan></text></g>
<g id="gd" class="n"><rect x="4923" y="451" width="117" height="23"/><text x="4981.5" y="466.5">gland development</text></g>
<g id="pd" class="n"><rect x="5087" y="451" width="141" height="23"/><text x="5157.5" y="466.5">pancreas development</text></g>
<g id="kd" class="n"><rect x="4533" y="547" width="126" height="23"/><text x="4596" y="562.5">kidney development</text><rect class="zf" x="4533" y="570" width="63" height="22"/><rect class="zf" x="4596" y="570" width="63" height="22"/><text x="4564.5" y="585">Zfish</text><text x="4627.5" y="585">ptgs1</text></g>
<g id="epd" class="n"><rect x="4876" y="541" width="116" height="36"/><text x="4934" y="556.25"><tspan x="4934">exocrine pancreas</tspan><tspan x="4934" dy="13.5">development</tspan></text><rect class="zf" x="4876" y="577" width="58" height="21"/><rect class="zf" x="4934" y="577" width="58" height="21"/><text x="4905" y="591.5">Zfish</text><text x="4963" y="591.5">ptgs1</text></g>
<g id="pnd" class="n"><rect x="4488" y="643" width="153" height="23"/><text x="4564.5" y="658.5">pronephros development</text><rect class="zf" x="4488" y="666" width="76.5" height="22"/><rect class="zf" x="4564.5" y="666" width="76.5" height="22"/><text x="4526.25" y="681">Zfish</text><text x="4602.75" y="681">ptgs1</text></g>
<g id="rs" class="n"><rect x="5593" y="159" width="78" height="37"/><text x="5632" y="174.75"><tspan x="5632">response to</tspan><tspan x="5632" dy="13.5">stimulus</tspan></text></g>
<g id="crs" class="n"><rect x="5508" y="242" width="109" height="36"/><text x="5562.5" y="257.25"><tspan x="5562.5">cellular response</tspan><tspan x="5562.5" dy="13.5">to stimulus</tspan></text></g>
<g id="rc" class="n"><rect x="5662" y="242" width="79" height="36"/><text x="5701.5" y="257.25"><tspan x="5701.5">response to</tspan><tspan x="5701.5" dy="13.5">chemical</tspan></text></g>
<g id="resti" class="n"><rect x="5924" y="242" width="134" height="36"/><text x="5991" y="257.25"><tspan x="5991">response to</tspan><tspan x="5991" dy="13.5">endogenous stimulus</tspan></text></g>
<g id="rocc" class="n"><rect x="5362" y="332" width="115" height="49"/><text x="5419.5" y="347"><tspan x="5419.5">response to</tspan><tspan x="5419.5" dy="13.5">oxygen-containing</tspan><tspan x="5419.5" dy="13.5">compound</tspan></text></g>
<g id="crcs" class="n"><rect x="5579" y="332" width="108" height="49"/><text x="5633" y="347"><tspan x="5633">cellular response</tspan><tspan x="5633" dy="13.5">to chemical</tspan><tspan x="5633" dy="13.5">stimulus</tspan></text></g>
<g id="ros" class="n"><rect x="5731" y="338" width="116" height="37"/><text x="5789" y="353.75"><tspan x="5789">response to</tspan><tspan x="5789" dy="13.5">organic substance</tspan></text></g>
<g id="rnc" class="n"><rect x="5947" y="338" width="119" height="37"/><text x="6006.5" y="353.75"><tspan x="6006.5">response to</tspan><tspan x="6006.5" dy="13.5">nitrogen compound</tspan></text></g>
<g id="rk" class="n"><rect x="5325" y="445" width="80" height="36"/><text x="5365" y="460.25"><tspan x="5365">response to</tspan><tspan x="5365" dy="13.5">ketone</tspan></text></g>
<g id="ra" class="n"><rect x="5449" y="445" width="79" height="36"/><text x="5488.5" y="460.25"><tspan x="5488.5">response to</tspan><tspan x="5488.5" dy="13.5">alcohol</tspan></text></g>
<g id="cros" class="n"><rect x="5573" y="445" width="131" height="36"/><text x="5638.5" y="460.25"><tspan x="5638.5">cellular response</tspan><tspan x="5638.5" dy="13.5">to organic substance</tspan></text></g>
<g id="rl" class="n"><rect x="5750" y="445" width="79" height="36"/><text x="5789.5" y="460.25"><tspan x="5789.5">response to</tspan><tspan x="5789.5" dy="13.5">lipid</tspan></text></g>
<g id="rocyc" class="n"><rect x="5875" y="438" width="90" height="50"/><text x="5920" y="453.5"><tspan x="5920">response to</tspan><tspan x="5920" dy="13.5">organic cyclic</tspan><tspan x="5920" dy="13.5">compound</tspan></text></g>
<g id="ronc" class="n"><rect x="6011" y="428" width="95" height="50"/><text x="6058.5" y="443.5"><tspan x="6058.5">response to</tspan><tspan x="6058.5" dy="13.5">organonitrogen</tspan><tspan x="6058.5" dy="13.5">compound</tspan></text><rect class="rat" x="6011" y="478" width="47.5" height="21"/><rect class="rat" x="6058.5" y="478" width="47.5" height="21"/><text x="6034.75" y="492.5">Rat</text><text x="6082.25" y="492.5">Ptgs1</text></g>
<g id="rh" class="n"><rect x="6152" y="445" width="79" height="36"/><text x="6191.5" y="460.25"><tspan x="6191.5">response to</tspan><tspan x="6191.5" dy="13.5">hormone</tspan></text></g>
<g id="rfa" class="n"><rect x="5270" y="541" width="83" height="36"/><text x="5311.5" y="556.25"><tspan x="5311.5">response to</tspan><tspan x="5311.5" dy="13.5">fatty acid</tspan></text><rect class="rat" x="5270" y="577" width="41.5" height="21"/><rect class="rat" x="5311.5" y="577" width="41.5" height="21"/><text x="5290.75" y="591.5">Rat</text><text x="5332.25" y="591.5">Ptgs1</text></g>
<g id="crocc" class="n"><rect x="5649" y="534" width="108" height="49"/><text x="5703" y="549"><tspan x="5703">cellular response</tspan><tspan x="5703" dy="13.5">to organic cyclic</tspan><tspan x="5703" dy="13.5">compound</tspan></text><rect class="zf" x="5649" y="583" width="54" height="22"/><rect class="zf" x="5703" y="583" width="54" height="22"/><text x="5676" y="598">Zfish</text><text x="5730" y="598">ptgs1</text></g>
<g id="rsh" class="n"><rect x="5802" y="552" width="103" height="36"/><text x="5853.5" y="567.25"><tspan x="5853.5">response to</tspan><tspan x="5853.5" dy="13.5">steroid hormone</tspan></text></g>
<g id="rcort" class="n"><rect x="5684" y="648" width="90" height="36"/><text x="5729" y="663.25"><tspan x="5729">response to</tspan><tspan x="5729" dy="13.5">corticosteroid</tspan></text></g>
<g id="rgc" class="n"><rect x="5536" y="743" width="92" height="37"/><text x="5582" y="758.75"><tspan x="5582">response to</tspan><tspan x="5582" dy="13.5">glucocorticoid</tspan></text></g>
<g id="rmcort" class="n"><rect x="5674" y="743" width="109" height="37"/><text x="5728.5" y="758.75"><tspan x="5728.5">response to</tspan><tspan x="5728.5" dy="13.5">mineralocorticoid</tspan></text></g>
<g id="rcst" class="n"><rect x="5489" y="833" width="92" height="35"/><text x="5535" y="847.75"><tspan x="5535">response to</tspan><tspan x="5535" dy="13.5">corticosterone</tspan></text><rect class="rat" x="5489" y="868" width="46" height="22"/><rect class="rat" x="5535" y="868" width="46" height="22"/><text x="5512" y="883">Rat</text><text x="5558" y="883">Ptgs1</text></g>
</g>
</svg>
